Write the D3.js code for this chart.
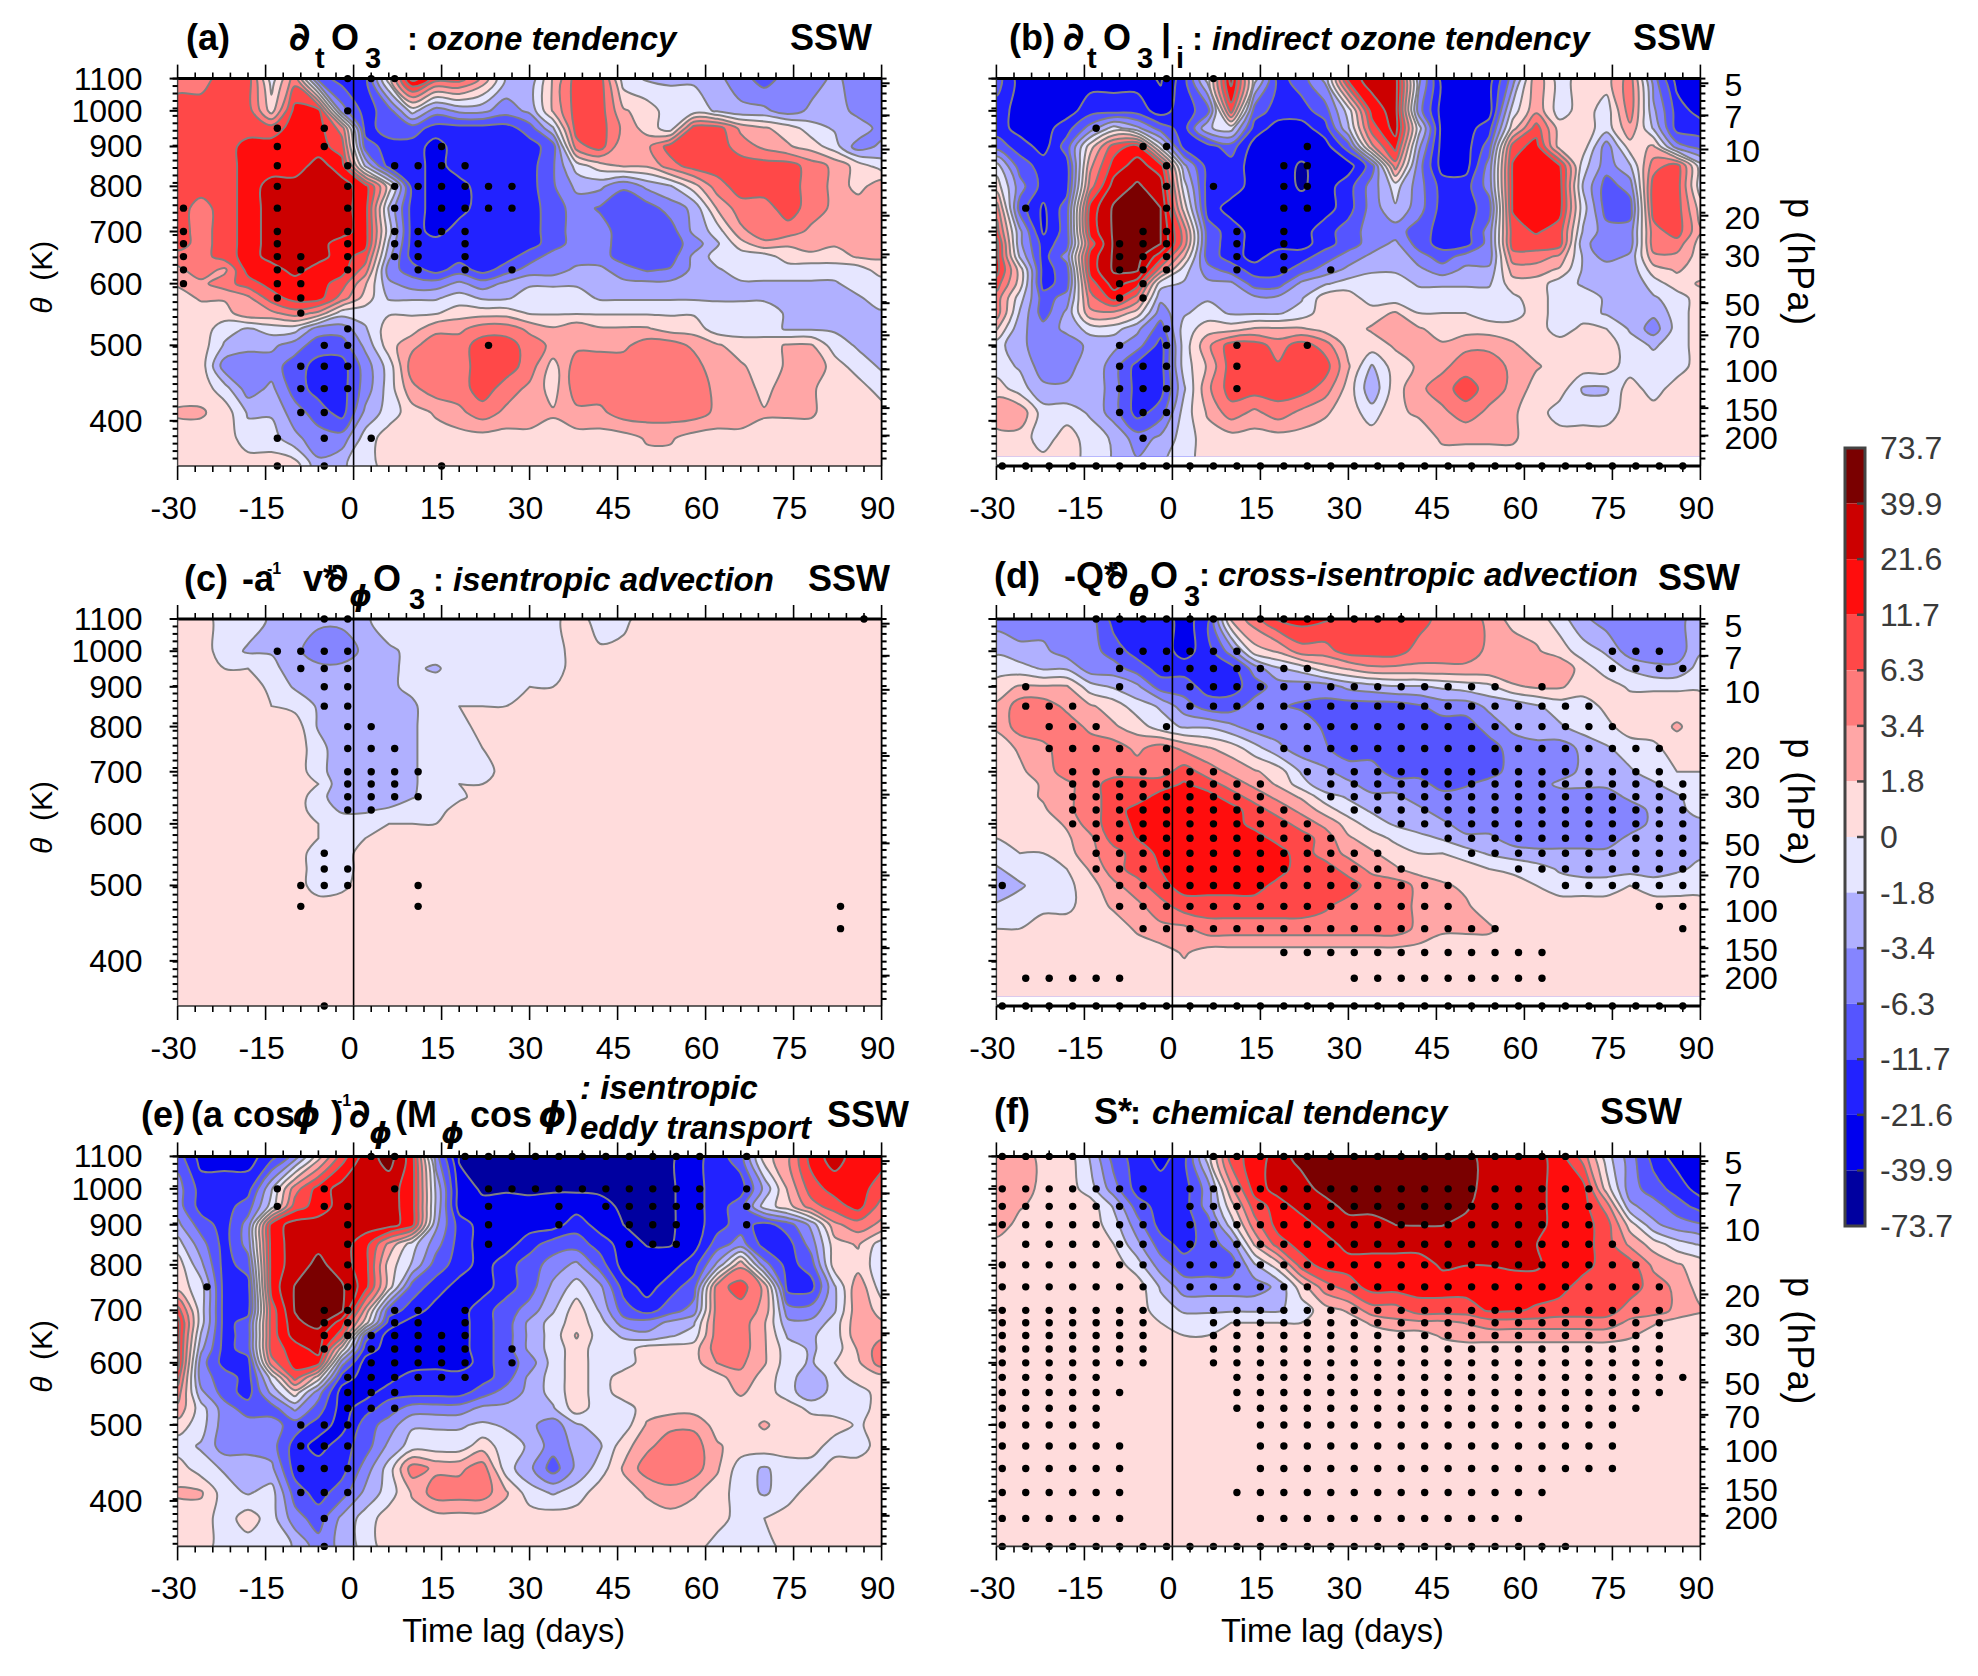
<!DOCTYPE html>
<html><head><meta charset="utf-8">
<script src="https://cdn.jsdelivr.net/npm/d3@7"></script>
<style>html,body{margin:0;background:#fff}svg{display:block}text{font-family:"Liberation Sans",Arial,sans-serif}</style>
</head><body><svg id="c" width="1978" height="1676"></svg>
<script>
const thetaLevels=[1100,1000,950,900,850,800,750,700,675,650,625,600,575,550,525,500,470,440,410,380,350];
const gridDays=d3.range(-30,91,4);
const colorLevels=[-73.7,-39.9,-21.6,-11.7,-6.3,-3.4,-1.8,0,1.8,3.4,6.3,11.7,21.6,39.9,73.7];
const bandColors=["#0000a0","#0000ee","#2222ff","#5555ff","#8585ff","#b0b0ff","#e6e6ff","#ffdcdc","#ffa6a6","#ff7a7a","#ff4848","#ff0d0d","#cc0000","#7a0000"];
const xTickLabels=[-30,-15,0,15,30,45,60,75,90];
const thetaTicks=[1100,1000,900,800,700,600,500,400];
const pressureTicks=[5,7,10,20,30,50,70,100,150,200];

const fieldA=[
[5,5,9,9,-1,5,-9,-16,-16,1,30,9,9,3,-2,-3,2,9,9,-1,-2,-2,-2,-3,-5,-9,-5,-5,-3,-5,-5],
[9,9,9,9,1,16,16,-5,-16,-9,-1,-5,-3,-3,-5,-3,2,9,9,2,1,-1,-1,-2,-3,-3,-5,-3,-2,-5,-5],
[9,9,9,9,9,16,16,5,-16,-9,-9,-16,-16,-16,-16,-9,-2,9,9,3,1,-1,9,9,3,2,1,-1,-2,-2,-5],
[9,9,9,16,16,16,16,9,-9,-16,-16,-30,-16,-16,-16,-16,-9,5,9,2,3,9,9,9,5,3,2,1,-1,-5,-3],
[9,9,9,16,16,16,30,16,-2,-16,-16,-30,-16,-16,-16,-16,-7,-1,1,2,2,5,9,9,9,9,9,5,3,1,-1],
[9,9,9,16,30,30,30,30,16,1,-16,-30,-30,-16,-16,-16,-7,-3,-3,-6,-3,-2,1,5,9,9,9,5,3,1,3],
[9,5,9,16,30,30,30,30,16,-2,-16,-30,-30,-16,-16,-16,-9,-5,-7,-9,-9,-5,-3,2,5,5,9,5,3,3,3],
[9,5,9,16,30,30,30,30,16,-1,-16,-30,-16,-16,-16,-16,-9,-5,-5,-9,-9,-9,-3,-1,3,5,5,3,3,3,3],
[9,5,9,16,30,30,30,16,16,-2,-16,-16,-16,-16,-16,-16,-9,-5,-5,-9,-9,-9,-5,-2,1,3,2,3,2,2,3],
[5,5,9,16,30,30,30,16,9,-3,-16,-16,-16,-16,-16,-9,-5,-5,-5,-9,-9,-9,-3,-1,-1,-1,1,1,1,2,2],
[3,5,3,16,16,30,16,16,5,-5,-9,-16,-9,-16,-9,-5,-5,-3,-3,-5,-7,-6,-3,-2,-1,-1,-1,-1,-1,-1,1],
[2,3,5,9,16,16,16,9,2,-3,-5,-5,-3,-5,-3,-2,-2,-2,-3,-3,-3,-3,-3,-2,-2,-2,-2,-2,-2,-1,-1],
[1,2,2,3,9,16,16,5,1,-2,-2,-2,-1,-2,-2,-1,-1,-1,-2,-2,-2,-2,-2,-2,-2,-2,-2,-2,-2,-2,-1],
[1,1,1,3,3,5,3,-1,-1,-.2,-.2,-.2,1,1,1,-.2,-.2,-.2,-.2,-.2,-.2,-.2,-.2,-1,-1,-1,-2,-2,-2,-2,-2],
[1,1,-1,-2,-1,-1,-5,-5,-2,1,1,3,3,5,5,3,2,3,2,2,2,1,1,-1,-1,-1,-2,-2,-2,-2,-2],
[1,1,-2,-3,-3,-5,-9,-9,-3,1,3,5,5,9,9,5,3,3,3,3,5,5,3,2,1,1,2,2,-1,-2,-2],
[1,1,-5,-5,-5,-9,-16,-16,-5,-1,5,5,5,9,9,5,1,5,5,5,5,5,5,2,2,1,2,3,1,-1,-2],
[1,1,-1,-5,-3,-9,-16,-16,-5,-1,3,5,5,9,5,3,1,5,5,5,5,5,5,3,3,1,3,2,1,1,-1],
[2,2,1,-2,-2,-5,-9,-16,-3,-1,1,2,3,5,3,3,2,3,3,5,5,5,5,3,3,2,2,2,1,1,1],
[1,1,1,-1,-1,-3,-5,-5,-1,1,1,1,1,1,1,1,1,1,1,1,2,2,1,1,1,1,1,1,1,1,1],
[1,1,1,1,1,1,-3,-2,-1,1,1,1,1,1,1,1,1,1,1,1,1,1,1,1,1,1,1,1,1,1,1]];
const dotsA=["7-9","7","4 6","4 6 11","4 7 9-12","4 7 9-14","0 4 7 9 11-14","0 4 7 9-12","0 4 7 9 10 12","0 4 5 7 9 10 12","0 4 5 7 10 12 14","0 4 5","4 5","5","7","6 7 13","5-7","5-7","5 6","4 6 8","4 6 11"];

const fieldB=[
[-9,-30,-30,-30,-30,-30,-30,-45,-16,-1,30,-1,-16,-9,-3,16,30,30,-3,-30,-30,-30,-5,3,-1,1,1,5,-5,-30,-30],
[-16,-30,-30,-30,-16,-16,-16,-30,-16,-9,9,-9,-16,-16,-9,-1,16,30,-5,-30,-30,-30,-1,3,-1,1,-1,5,-3,-16,-30],
[-16,-30,-30,-16,-5,-1,-3,-9,-16,-2,-1,-16,-30,-30,-16,-2,9,30,-1,-30,-30,-16,1,9,1,1,-1,3,-2,-16,-16],
[-9,-16,-30,-9,1,9,16,-1,-16,-16,-9,-30,-30,-30,-30,-9,3,16,-3,-30,-30,-9,9,16,1,1,-5,1,2,-5,-9],
[-1,-9,-16,-16,3,16,30,16,-3,-16,-16,-30,-30,-45,-30,-30,-9,5,-5,-30,-30,-5,13,16,13,-1,-5,-2,5,9,-1],
[1,-5,-16,-16,5,30,45,30,-1,-16,-16,-30,-30,-45,-30,-16,-5,-1,-5,-16,-16,-5,13,16,16,-2,-9,-5,9,9,-1],
[5,-9,-25,-9,16,45,55,40,1,-16,-30,-30,-30,-30,-30,-16,-5,-2,-5,-16,-16,-9,13,16,16,-1,-9,-9,9,9,1],
[9,-3,-25,-9,16,45,55,40,5,-9,-16,-30,-30,-30,-16,-9,-5,-5,-9,-16,-16,-5,9,13,9,-2,-5,-5,5,9,2],
[16,-3,-16,-9,9,45,55,40,5,-9,-16,-30,-30,-30,-16,-9,-5,-3,-9,-16,-16,-5,9,9,9,-3,-5,-5,5,5,1],
[16,-2,-16,-5,16,45,55,16,2,-9,-16,-30,-16,-16,-9,-5,-3,-2,-5,-9,-5,-5,5,5,3,-2,-5,-3,3,3,1],
[16,1,-16,-9,16,45,45,5,-1,-5,-9,-16,-16,-9,-5,-3,-2,-2,-3,-5,-3,-3,2.5,2.5,1.5,-2,-2,-3,1,2,1],
[9,1,-16,-9,9,30,16,-1,-2,-3,-3,-9,-9,-3,-2,-1,-1,-1,-2,-2,-2,-2,1,1,-1,-2,-2,-3,-1,1,2],
[5,-1,-9,-5,5,16,5,-3,-2,-2,-2,-3,-3,-2,1,1,-1,-1,-1,-1,-1,-1,-.5,1,-1,-1,-2,-3,-2,-1,1],
[5,-2,-9,-3,3,3,1,-5,-2,-1,-2,-2,-2,-1,1,1,1,2,0,0,0,-1,-1,1,-1,-1,-2,-3,-3,-1,1],
[2,-3,-5,-3,-1,-1,-3,-9,-1,1,1,2,2,2,1,1,2,3,2,1,1,1,1,1,-1,.5,0,-2,-5,-1,1],
[-1,-3,-5,-5,-3,-3,-5,-16,-1,3,9,9,5,9,5,1,1,2,2,2,3,3,2,1,1,1,1,-1,-2,-1,1],
[-1,-2,-5,-5,-2,-5,-16,-16,-1,2,9,9,7,9,9,2,-2,1,2,3,5,5,3,2,1,1,1,-1,-1,-1,1],
[1,-1,-3,-3,-2,-5,-16,-16,-2,3,9,9,9,9,5,1,-3,1,3,5,9,5,3,1,1,-2,-2,1,-1,1,1],
[3,3,-1,-1,-2,-5,-16,-9,-1,2,5,3,5,3,2,1,-1,1.5,2,3,5,3,2,1,-1,-1,-1,1,1,1,1],
[1,1,-1,1,-1,-2,-5,-3,-1,1,1,1,1,1,1,1,1,1,1,2,2,2,2,1,1,1,1,1,1,1,1],
[1,1,1,1,-1,-2,-3,-2,-1,1,1,1,1,1,1,1,1,1,1,1,1,1,1,1,1,1,1,1,1,1,1]];
const dotsB=["7 9","","4","6 7 13","7 12 13","7 9 12 13","1 7 12 13","6 7 10 12","5-7 10 12","5-7 10 12","5-7 10 12 14","5 6","5 6","","7","5 7 10 13","5-7 10","5-7 10","5-7","6","0-29"];

const fieldC=[
[1,1,-1,-1,-2,-3,-3,-3,-2,-1,-1,-1,-1,-1,-1,-1,-.5,1,-1,-.5,1,1,1,1,1,1,1,1,1,1,1],
[1,1,-1,-2,-2,-3,-5,-5,-3,-2,-1.5,-1,-1,-1,-1,-1,-1,1,.3,.5,1,1,1,1,1,1,1,1,1,1,1],
[1,1,0,0,-1,-3,-3,-3,-3,-2,-1.5,-2,-1,-1,-1,-1,-1,1,1,1,1,1,1,1,1,1,1,1,1,1,1],
[1,1,1,1,-.5,-2,-3,-3,-3,-2,-1.5,-1,-1,-1,-1,0,0,1,1,1,1,1,1,1,1,1,1,1,1,1,1],
[1,1,1,1,0,-.5,-2,-3,-3,-2,-2,-1,0,0,0,1,1,1,1,1,1,1,1,1,1,1,1,1,1,1,1],
[1,1,1,1,1,1,-2,-2,-3,-2,-2,-1,-1,1,1,1,1,1,1,1,1,1,1,1,1,1,1,1,1,1,1],
[1,1,1,1,1,1,-1,-3,-3,-3,-2,-1,-1,0,1,1,1,1,1,1,1,1,1,1,1,1,1,1,1,1,1],
[1,1,1,1,1,1,-1,-3,-3,-3,-2,-1,-1,-1,1,1,1,1,1,1,1,1,1,1,1,1,1,1,1,1,1],
[1,1,1,1,1,1,0,-3,-3,-3,-2,-1,0,0,1,1,1,1,1,1,1,1,1,1,1,1,1,1,1,1,1],
[1,1,1,1,1,1,-1,-3,-3,-3,-1.9,-1,-.5,1,1,1,1,1,1,1,1,1,1,1,1,1,1,1,1,1,1],
[1,1,1,1,1,1,-1,-2,-2,-1.5,-1,-1,1,1,1,1,1,1,1,1,1,1,1,1,1,1,1,1,1,1,1],
[1,1,1,1,1,1,0,-1,-1,0,0,0,1,1,1,1,1,1,1,1,1,1,1,1,1,1,1,1,1,1,1],
[1,1,1,1,1,1,0,-1,0,0,1,1,1,1,1,1,1,1,1,1,1,1,1,1,1,1,1,1,1,1,1],
[1,1,1,1,1,1,-1,-1,1,1,1,1,1,1,1,1,1,1,1,1,1,1,1,1,1,1,1,1,1,1,1],
[1,1,1,1,1,1,-1,-1,1,1,1,1,1,1,1,1,1,1,1,1,1,1,1,1,1,1,1,1,1,1,1],
[1,1,1,1,1,1,-1,-.5,1,1,1,1,1,1,1,1,1,1,1,1,1,1,1,1,1,1,1,1,1,1,1],
[1,1,1,1,1,1,1,1,1,1,1,1,1,1,1,1,1,1,1,1,1,1,1,1,1,1,1,1,1,1,1],
[1,1,1,1,1,1,1,1,1,1,1,1,1,1,1,1,1,1,1,1,1,1,1,1,1,1,1,1,1,1,1],
[1,1,1,1,1,1,1,1,1,1,1,1,1,1,1,1,1,1,1,1,1,1,1,1,1,1,1,1,1,1,1],
[1,1,1,1,1,1,1,1,1,1,1,1,1,1,1,1,1,1,1,1,1,1,1,1,1,1,1,1,1,1,1],
[1,1,1,1,1,1,1,1,1,1,1,1,1,1,1,1,1,1,1,1,1,1,1,1,1,1,1,1,1,1,1]];
const dotsC=["6 7 29","4-7","5-7","6 7","6 7","7 8","7-9","7-10","7-9","7-10","7 8","","","6","6 7","5-7 10","5 10 28","28","","","6"];

const fieldD=[
[-5,-5,-5,-5,-5,-16,-16,-16,-30,-16,2,5,13,16,13,9,9,9,9,5,5,3,1,1,-1,-3,-5,-5,-5,-5,-2],
[-2,-3,-3,-5,-5,-9,-16,-16,-30,-16,-5,1,2,5,5,9,9,9,5,5,5,3,3,2,1,-1,-2,-5,-5,-5,-2],
[-1,-1,-2,-2,-5,-5,-9,-16,-16,-16,-16,-5,-2,-1,1,2,3,3,3,3,3,3,3,3,3,1,-1,-2,-3,-3,-1],
[1,2,2,2,-1,-2,-3,-9,-9,-16,-16,-9,-5,-5,-5,-3,-2.5,-2,-2,-1.5,-1,-.5,1.5,2,2,1,1,-.3,-.3,-.3,-.3],
[2,5,5,3,2,1,-1,-2,-5,-9,-9,-5,-6,-7,-8,-9,-9,-9,-7,-5,-5,-3,-3,-2,-1,-1,.5,1,1,1,1],
[2,5,5,5,3,2,1,-1,-2,-2,-3,-5,-5,-5,-7,-9,-9,-9,-9,-9,-9,-5,-3,-2,-2,-1,-.5,1,1,2,1],
[1,2,3,5,5,5,3,5,3,2,1,-1,-3,-5,-6,-9,-9,-9,-9,-9,-9,-9,-5,-5,-5,-3,-2,-1,-.5,1,1],
[1,1.5,2.5,5,5,5,5,5,9,5,3,2,1,-2,-3,-5,-5,-9,-9,-9,-9,-9,-5,-5,-5,-3,-3,-2,-1,0,0],
[1,1,2,3,5,9,9,9,13,9,5,3,1.5,-1,-3,-3,-5,-5,-5,-9,-7,-5,-5,-5,-3,-3,-3,-3,-2,-1,-.5],
[1,1,2,3,5,9,9,16,16,16,9,5,3,1.5,-1,-2,-3,-3,-5,-5,-5,-5,-5,-5,-5,-5,-5,-3,-2.5,-2,-1],
[1,1,1.5,3,5,9,16,16,16,16,16,9,5,3,1,-1,-2,-3,-3,-5,-5,-5,-5,-5,-5,-5,-5,-5,-3,-2,-1.5],
[1,1,1,2,5,9,14,16,16,16,16,10,9,5,3,1,-1,-2,-3,-3,-5,-5,-5,-5,-5,-5,-5,-5,-3,-2.5,-2],
[0,1,1,1.5,3,9,12,16,16,16,16,16,10,9,5,2,1,-.5,-1,-2,-3,-3,-5,-5,-5,-5,-5,-3,-3,-2.5,-2],
[-1,0,0,1,3,5,9,14,16,16,16,16,16,9,5,3,2,1,0,0,-1,-2,-2.5,-3,-3,-3,-3,-3,-3,-2.5,-2],
[-2,-1,-1,0,2,5,9,12,16,16,16,16,16,9,9,5,3,2,1,1,1,0,-.5,-1,-2,-2.5,-2.5,-2.5,-2.5,-2,-1.5],
[-3,-2,-1,-.5,1,3,5,10,16,16,16,16,10,9,9,9,5,5,3,2,1.5,1,1,0,-1,-1,-1,0,-1,-1,-1],
[-1.5,-1,-.5,-.5,1,2,3,5,9,9,9,9,9,9,7,5,5,5,3,3,2,1,1,1,1,1,1,1,1,1,1],
[0,0,1,1,1,1,2,3,3,5,5,5,5,5,5,5,5,5,3,2,2,2,1,1,1,1,1,1,1,1,1],
[1,1,1,1,1,1,1,1,2,1,1,1,1,1,1,1,1,1,1,1,1,1,1,1,1,1,1,1,1,1,1],
[1,1,1,1,1,1,1,1,1,1,1,1,1,1,1,1,1,1,1,1,1,1,1,1,1,1,1,1,1,1,1],
[1,1,1,1,1,1,1,1,1,1,1,1,1,1,1,1,1,1,1,1,1,1,1,1,1,1,1,1,1,1,1]];
const dotsD=["4-9 11-17","5-10 26-28","5 7-13 26-29","1 5 8-21 23","1-3 8-25","2-4 7 11-26","2-5 7 12-28","3-9 13-28","3-11 14-29","3-11 14-29","3-12 15-29","3-13 17-29","4-14 19-29","4-16 20-29","4-17 22-29","0 5-19 24-29","5-19 28 29","6-21 29","12-23","1-5 15-23","0-29"];

const fieldE=[
[-9,-30,-30,-30,-16,-5,1,9,30,55,16,-5,-45,-45,-45,-45,-45,-45,-45,-45,-45,-45,-30,-16,-9,1,3,16,30,16,16],
[-5,-16,-16,-16,-2,5,16,30,30,30,16,-2,-30,-45,-45,-45,-45,-45,-45,-45,-45,-45,-30,-16,-16,-3,2,9,16,16,9],
[-5,-16,-16,-9,-1,9,16,30,30,30,16,-2,-30,-35,-30,-35,-30,-30,-35,-45,-45,-45,-30,-16,-9,-1,1,5,9,16,5],
[-3,-9,-16,-5,16,30,30,30,30,30,16,-3,-16,-30,-30,-30,-30,-16,-30,-40,-45,-45,-30,-16,-9,-16,-9,-3,3,5,3],
[-1,-5,-16,-5,16,30,35,30,16,3,-1,-5,-16,-30,-30,-16,-9,-9,-16,-30,-42,-42,-30,-9,-5,-16,-16,-5,1,2,-1],
[1,-3,-16,-9,16,30,50,30,16,1,-2,-9,-16,-30,-16,-9,-5,-3,-9,-30,-30,-30,-16,-3,3,-5,-16,-9,1,1,-1],
[1,-1,-16,-16,16,42,55,45,16,1,-9,-16,-30,-30,-16,-9,-3,-1,-3,-16,-30,-16,-9,5,9,3,-16,-16,-2,3,-1],
[9,-1,-16,-16,9,42,55,45,3,-9,-16,-30,-30,-16,-9,-5,-2,1,-2,-9,-16,-9,-5,5,5,3,-5,-5,-2,3,1],
[16,-1,-16,-9,9,35,55,16,1,-16,-30,-30,-30,-16,-9,-3,-1,1,-1,-5,-5,-3,-2,5,5,2,-3,-3,-1,3,2],
[16,-2,-16,-9,9,30,30,9,-9,-30,-30,-30,-30,-16,-9,-3,-1,2,-1,-2,-3,-2,-1,5,5,2,-2,-2,-1,3,3],
[16,-3,-16,-9,9,16,30,1,-16,-30,-30,-30,-30,-16,-9,-3,-1,1,-1,-1,1,1,1,5,5,2,-1,-2,-1,2,5],
[16,-5,-16,-16,5,16,16,-5,-30,-30,-35,-30,-35,-16,-9,-5,-1,1,-1,-1,1,1,1,3.5,4,2,-1,-2,0,1.5,5],
[9,-5,-9,-16,-1,9,1,-16,-30,-30,-16,-16,-16,-16,-9,-3,-1,1,-1,1,1,1,1,1,3,1,-1,-3,-1,1,1],
[5,-3,-9,-16,-3,1,-5,-30,-30,-16,-16,-16,-16,-9,-5,-3,-1,1,-1,1,1,1,1,1,2,1,-1,-3,-1,-1,1],
[3,-1,-5,-9,-9,-3,-9,-30,-16,-9,-5,-5,-5,-3,-3,-3,-2,1,-1,-1,1,1,1,1,1,1,1,-.5,-1,-1,1],
[1,-1,-5,-5,-5,-9,-16,-30,-9,-5,-2,-2,-2,-1.5,-2,-3,-5,-2,-1,-1,2,3,3,1,1,2,1,1,1,-.3,1],
[-1,-2,-5,-5,-5,-16,-30,-16,-9,-3,-1,-1,-1,1,-1,-2,-5,-3,-2,1,3,5,5,2,1,1,1,1,-1,-1,1],
[1,-1,-2,-2,-3,-16,-16,-16,-5,-1,5,3,3,5,-1,-3,-9,-3,-1,2,5,5,5,2,-1,-2,-1,-1,1,1,1],
[2,2,-1,-2,-1,-9,-16,-9,-3,-1,2,5,5,5,2,-1,-2,-1,1,1,2,3,2,1,-1,-2,-1,1,1,1,1],
[1,1,-1,1,-1,-5,-9,-3,-1,1,1,1,1,1,1,1,1,1,1,1,1,1,1,1,-1,0,1,1,1,1,1],
[1,1,-1,-1,-.5,-2,-5,-3,-1,1,1,1,1,1,1,1,1,1,1,1,1,1,1,-1,-1,-1,1,1,1,1,1]];
const dotsE=["8 9 12-22 24","4 6 9 13-22 24","4 6 7 13 16 18-22 24","7 13 16 19-21 24","7 13 19-21","7","1 7","6 7 9 10 12","6 7 9 10 12","6-12","6 8-12 14","8-12 14","7-12","7-9","7-9","5-7","5-7","5-7","5-7","6","6"];

const fieldF=[
[3,3,1,1,-2,-9,-16,-30,-16,-1,9,16,30,55,55,55,60,60,55,55,55,30,30,30,16,5,-1,-5,-16,-30,-30],
[3,3,1,1,-1,-5,-16,-16,-16,-5,3,16,30,30,55,55,55,55,55,55,55,30,30,30,16,16,1,-5,-9,-16,-30],
[3,2,1,1,1,-2,-9,-16,-16,-5,1,9,16,30,30,55,55,55,55,55,45,30,30,30,16,16,5,-3,-5,-9,-16],
[3,1,1,1,1,-1,-5,-16,-16,-9,-1,5,16,16,30,30,30,40,41,41,35,30,30,30,16,16,9,1,-3,-5,-6],
[1,1,1,1,1,0,-3,-9,-16,-9,-5,2,9,16,16,30,30,30,30,30,30,30,30,22,16,16,9,3,1,-1,-2],
[1,1,1,1,1,1,-1,-5,-9,-9,-9,-2,1,9,16,16,16,16,16,25,22,22,25,25,16,16,9,9,3,2,1],
[1,1,1,1,1,1,1,-2,-5,-5,-5,-5,-3,1,5,9,16,16,16,16,16,16,16,16,16,9,9,9,5,3,1],
[1,1,1,1,1,1,1,-1,-2,-2,-2,-2,-2,-1,1,2,5,5,9,9,9,13,13,11,9,9,9,5,5,3,2],
[1,1,1,1,1,1,1,0,-1,-1,0,0,0,0,1,1,2,3,3,3,3.5,5,5,5,5,5,5,3,2,1,1],
[1,1,1,1,1,1,1,1,0,0,1,1,1,1,1,1,1,1,1,2,2.5,2.5,2.5,2.5,2.5,2.5,2.5,2,1,1,1],
[1,1,1,1,1,1,1,1,1,1,1,1,1,1,1,1,1,1,1,1,1,1,1,1,1,1,1,1,1,1,1],
[1,1,1,1,1,1,1,1,1,1,1,1,1,1,1,1,1,1,1,1,1,1,1,1,1,1,1,1,1,1,1],
[1,1,1,1,1,1,1,1,1,1,1,1,1,1,1,1,1,1,1,1,1,1,1,1,1,1,1,1,1,1,1],
[1,1,1,1,1,1,1,1,1,1,1,1,1,1,1,1,1,1,1,1,1,1,1,1,1,1,1,1,1,1,1],
[1,1,1,1,1,1,1,1,1,1,1,1,1,1,1,1,1,1,1,1,1,1,1,1,1,1,1,1,1,1,1],
[1,1,1,1,1,1,1,1,1,1,1,1,1,1,1,1,1,1,1,1,1,1,1,1,1,1,1,1,1,1,1],
[1,1,1,1,1,1,1,1,1,1,1,1,1,1,1,1,1,1,1,1,1,1,1,1,1,1,1,1,1,1,1],
[1,1,1,1,1,1,1,1,1,1,1,1,1,1,1,1,1,1,1,1,1,1,1,1,1,1,1,1,1,1,1],
[1,1,1,1,1,1,1,1,1,1,1,1,1,1,1,1,1,1,1,1,1,1,1,1,1,1,1,1,1,1,1],
[1,1,1,1,1,1,1,1,1,1,1,1,1,1,1,1,1,1,1,1,1,1,1,1,1,1,1,1,1,1,1],
[1,1,1,1,1,1,1,1,1,1,1,1,1,1,1,1,1,1,1,1,1,1,1,1,1,1,1,1,1,1,1]];
const dotsF=["0-3 9-24","0-6 8-25","0-6 8-25","0-6 8-25","1-6 8-26","0-6 8-27","0-6 8-28","0-6 9-28","0-6 9-28","0-6 9-28","0-6 9-28","0-6 9-28","0-4 10-29","0-5 10-28","0-4 10-27","0-4 11-26","0-5 11-26","0-5 11-26","0-5 10-23","0-5 11-22","0-24"];

const svg=d3.select("#c");
const BASE=colorLevels.length;
const toBand=d3.scaleLinear().domain(colorLevels).range(d3.range(BASE)).clamp(true);
const panels=[
 {id:"a",field:fieldA,dots:dotsA,L:177.6,T:78.6,B:466,left:true},
 {id:"b",field:fieldB,dots:dotsB,L:996.4,T:78.6,B:466,right:true,strip:true},
 {id:"c",field:fieldC,dots:dotsC,L:177.6,T:619,B:1006,left:true},
 {id:"d",field:fieldD,dots:dotsD,L:996.4,T:619,B:1006,right:true,strip:true},
 {id:"e",field:fieldE,dots:dotsE,L:177.6,T:1156.4,B:1546.4,left:true,time:true},
 {id:"f",field:fieldF,dots:dotsF,L:996.4,T:1156.4,B:1546.4,right:true,time:true}];
const W=704;

function txt(g,s,x,y,o={}){
 const t=g.append("text").attr("x",x).attr("y",y).text(s)
  .attr("font-size",o.size||32).attr("font-weight",o.w||"normal").attr("font-style",o.i?"italic":"normal")
  .attr("text-anchor",o.a||"start").attr("fill",o.c||"#000");
 if(o.f)t.style("font-family",o.f);
 return t;
}
const defs=svg.append("defs");
const ringLine=d3.line().curve(d3.curveCatmullRomClosed.alpha(0.5));
panels.forEach(p=>{
 const g=svg.append("g");
 const x=d3.scaleLinear([-30,90],[p.L,p.L+W]);
 const y=d3.scaleLog([350,1100],[p.B,p.T]);
 const py=d3.scaleLog([5,200],[p.T+4.7,p.T+(p.B-p.T)*0.9215]);
 const rowY=d3.scaleLinear(d3.range(thetaLevels.length),thetaLevels.map(t=>y(t)));
 const colX=d3.scaleLinear(d3.range(gridDays.length),gridDays.map(d=>x(d)));
 const clipB=p.strip?y(360):p.B;
 defs.append("clipPath").attr("id","clip"+p.id).append("rect").attr("x",p.L).attr("y",p.T).attr("width",W).attr("height",clipB-p.T);
 const plot=g.append("g").attr("clip-path",`url(#clip${p.id})`);
 const flat=p.field.flatMap(r=>{const q=r.slice(0,31);while(q.length<31)q.push(q[q.length-1]);return q.map(v=>toBand(v));});
 const gen=d3.contours().size([31,thetaLevels.length]).thresholds(d3.range(1,BASE-1));
 const ringPath=mp=>mp.coordinates.map(poly=>poly.map(r=>ringLine(r.slice(0,-1).map(([a,b])=>[colX(a-.5),rowY(b-.5)]))).join("")).join("");
 plot.append("rect").attr("x",p.L).attr("y",p.T).attr("width",W).attr("height",p.B-p.T).attr("fill",bandColors[0]);
 plot.selectAll("path").data(gen(flat)).join("path").attr("d",ringPath)
  .attr("fill",d=>bandColors[d.value]).attr("stroke","#808080").attr("stroke-width",2).attr("stroke-linejoin","round");
 // stipple
 const pts=[];
 p.dots.forEach((s,j)=>{ if(!s)return; s.split(" ").forEach(t=>{const [a,b]=t.split("-").map(Number);
   for(let i=a;i<=(b===undefined?a:b);i++)pts.push([-29+4*i,thetaLevels[j]]);});});
 g.selectAll("circle").data(pts).join("circle").attr("cx",d=>x(d[0])).attr("cy",d=>y(d[1])).attr("r",3.7).attr("fill","#000");
 // frame
 const ln=(x1,y1,x2,y2,w=1.5,c="#000")=>g.append("line").attr("x1",x1).attr("y1",y1).attr("x2",x2).attr("y2",y2).attr("stroke",c).attr("stroke-width",w);
 ln(x(0),p.T,x(0),p.B,1.6);
 ln(p.L,p.T,p.L+W,p.T,3);
 ln(p.L,p.B,p.L+W,p.B,p.strip?3:1.6,p.strip?"#000":"#333");
 ln(p.L,p.T,p.L,p.B,1.4,"#444");
 ln(p.L+W,p.T,p.L+W,p.B,1.8);
 // x ticks
 d3.range(-30,91,3).forEach(d=>{const M=d%15===0,l=M?14:6;
  ln(x(d),p.T-l,x(d),p.T,1.6); ln(x(d),p.B,x(d),p.B+l,1.6);});
 xTickLabels.forEach(d=>txt(g,d,x(d)-4,p.B+53,{a:"middle"}));
 // y ticks
 d3.range(p.T,p.B,7.45).forEach(v=>{ln(p.L-5,v,p.L,v,2);ln(p.L+W,v,p.L+W+5,v,2);});
 thetaTicks.forEach(t=>ln(p.L-8,y(t),p.L,y(t),2));
 pressureTicks.forEach(t=>ln(p.L+W,py(t),p.L+W+8,py(t),2));
 if(p.left)thetaTicks.forEach(t=>txt(g,t,p.L-35,y(t)+11,{a:"end"}));
 if(p.right)pressureTicks.forEach(t=>txt(g,t,p.L+W+24,py(t)+13));
 if(p.left){const cy=(p.T+p.B)/2+5;
  const th=g.append("text").attr("transform",`translate(52,${cy}) rotate(-90)`).attr("text-anchor","middle").attr("font-size",30);
  th.append("tspan").attr("font-style","italic").text("θ");th.append("tspan").attr("xml:space","preserve").text("  (K)");}
 if(p.right){const cy=(p.T+p.B)/2-10;
  g.append("text").attr("transform",`translate(1788,${cy}) rotate(90)`).attr("text-anchor","middle").attr("font-size",36).attr("letter-spacing",1.5).text("p (hPa)");}
 if(p.time)txt(g,"Time lag (days)",x(0)+160,1642,{a:"middle",size:32.5});
});

// titles: [text,x,baseline,size,italic,family]
const B=36,S=29,M=33,SYM="DejaVu Sans";
const titles=[
 ["(a)",186,50,B],["∂",289,50,39,1,SYM],["t",315,68,S],["O",331,50,B],["3",365,68,S],[":",407,50,M],["ozone tendency",427,50,M,1],["SSW",790,50,B],
 ["(b)",1009,50,B],["∂",1063,50,39,1,SYM],["t",1087,68,S],["O",1103,50,B],["3",1137,68,S],["|",1161,50,B],["i",1176,68,S],[":",1192,50,M],["indirect ozone tendency",1212,50,M,1],["SSW",1633,50,B],
 ["(c)",184,591,B],["-a",242,591,B],["-1",267,574,16],["v*",303,591,B],["∂",327,591,39,1,SYM],["ϕ",349,606,S,1,SYM],["O",373,591,B],["3",409,609,S],[":",433,591,M],["isentropic advection",453,591,M,1],["SSW",808,591,B],
 ["(d)",994,588,B],["-Q*",1064,588,B],["∂",1107,588,39,1,SYM],["θ",1129,606,S,1,SYM],["O",1150,588,B],["3",1184,606,S],[":",1199,586,M],["cross-isentropic advection",1218,586,M,1],["SSW",1658,590,B],
 ["(e)",141,1127,B],["(a cos",191,1127,B],["ϕ",292,1127,36,1,SYM],[")",331,1127,B],["-1",337,1106,16],["∂",349,1127,39,1,SYM],["ϕ",369,1143,S,1,SYM],["(M",395,1127,B],["ϕ",441,1143,S,1,SYM],["cos",470,1127,B],["ϕ",538,1127,36,1,SYM],[")",566,1127,B],[": isentropic",580,1099,M,1],["eddy transport",580,1139,M,1],["SSW",827,1127,B],
 ["(f)",994,1124,B],["S*",1094,1124,B],[":",1130,1124,M],["chemical tendency",1152,1124,M,1],["SSW",1600,1124,B]];
const tg=svg.append("g");
titles.forEach(t=>txt(tg,t[0],t[1],t[2],{size:t[3],w:"bold",i:!!t[4],f:t[5]}));

// colour bar
const cbar=svg.append("g");
const cy=d3.scaleLinear([0,colorLevels.length-1],[448,1226]);
const desc=colorLevels.slice().reverse();
bandColors.slice().reverse().forEach((c,i)=>cbar.append("rect").attr("x",1845).attr("y",cy(i)).attr("width",20).attr("height",cy(i+1)-cy(i)).attr("fill",c));
cbar.append("rect").attr("x",1845).attr("y",448).attr("width",20).attr("height",778).attr("fill","none").attr("stroke","#444").attr("stroke-width",3);
desc.forEach((v,i)=>{
 if(i>0&&i<desc.length-1)cbar.append("line").attr("x1",1857).attr("x2",1865).attr("y1",cy(i)).attr("y2",cy(i)).attr("stroke","#444").attr("stroke-width",2.5);
 txt(cbar,v,1880,cy(i)+11,{c:"#3a3a3a",size:32});
});
</script></body></html>
